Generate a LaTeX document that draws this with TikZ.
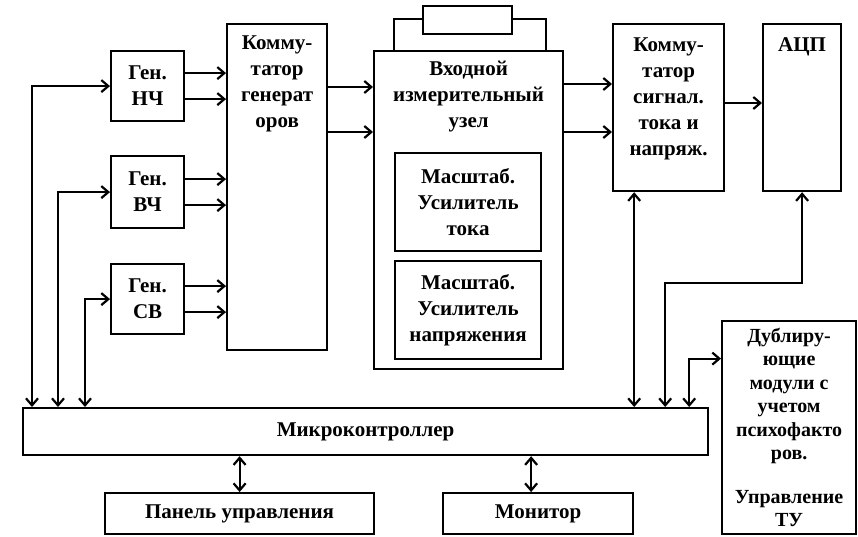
\documentclass[tikz,border=0pt]{standalone}
\usepackage{fontspec}
\setmainfont{Liberation Serif}
\usetikzlibrary{positioning,arrows.meta}

\begin{document}
\begin{tikzpicture}[x=1pt, y=-1pt, line width=2.2pt,
  font=\bfseries\fontsize{21}{26}\selectfont,
  >={Straight Barb[length=7pt,width=12pt]},
  blk/.style={draw, inner sep=0pt, anchor=north west, align=center},
  txt/.style={align=center, inner sep=0pt}
  ]
  \useasboundingbox (0,0) rectangle (858,536);
  % generators
  \node[blk, minimum width=73, minimum height=70] (gnch) at (110,50) {Ген.\\НЧ};
  \node[blk, minimum width=73, minimum height=72] (gvch) at (110,155) {Ген.\\ВЧ};
  \node[blk, minimum width=73, minimum height=70] (gsv) at (110,263) {Ген.\\СВ};
  \node[blk, minimum width=100, minimum height=326] (kg) at (226,23) {};
  \node[txt, below=12pt of kg.north] {Комму-\\татор\\генерат\\оров};
  % input unit with its lid
  \node[blk, minimum width=152, minimum height=32] (lid) at (393,18) {};
  \node[blk, fill=white, minimum width=89, minimum height=28] (disp) at (422,5) {};
  \node[blk, minimum width=189, minimum height=318] (vx) at (373,50) {};
  \node[txt, below=10pt of vx.north] {Входной\\измерительный\\узел};
  \node[blk, minimum width=146, minimum height=98] (mt) at (394,152) {Масштаб.\\Усилитель\\тока};
  \node[blk, minimum width=146, minimum height=98] (mn) at (394,260) {Масштаб.\\Усилитель\\напряжения};
  \node[blk, minimum width=111, minimum height=167] (ks) at (612,23) {};
  \node[txt, below=14pt of ks.north] {Комму-\\татор\\сигнал.\\тока и\\напряж.};
  \node[blk, minimum width=78, minimum height=167] (adc) at (762,23) {};
  \node[txt, below=14pt of adc.north] {АЦП};
  % bottom row
  \node[blk, minimum width=685, minimum height=47] (mc) at (22,407) {Микроконтроллер};
  \node[blk, minimum width=269, minimum height=41] (pu) at (104,492) {Панель управления};
  \node[blk, minimum width=190, minimum height=41] (mon) at (442,492) {Монитор};
  \node[blk, minimum width=134, minimum height=213, font=\bfseries\fontsize{20}{23.5}\selectfont]
    (dub) at (721,320) {Дублиру-\\ющие\\модули с\\учетом\\психофакто\\ров.\\[20pt]Управление\\ТУ};

  % signal flow
  \foreach \g in {gnch,gvch,gsv} {
    \draw[->] ([yshift=13]\g.east) -- ([yshift=13]\g.east -| kg.west);
    \draw[->] ([yshift=-13]\g.east) -- ([yshift=-13]\g.east -| kg.west);
  }
  \draw[->] ([yshift=-64]kg.north east) -- ([yshift=-64]kg.north east -| vx.west);
  \draw[->] ([yshift=-109]kg.north east) -- ([yshift=-109]kg.north east -| vx.west);
  \draw[->] ([yshift=-34]vx.north east) -- ([yshift=-34]vx.north east -| ks.west);
  \draw[->] ([yshift=-82]vx.north east) -- ([yshift=-82]vx.north east -| ks.west);
  \draw[->] ([yshift=-80]ks.north east) -- ([yshift=-80]ks.north east -| adc.west);

  % microcontroller links
  \coordinate (p1) at ([xshift=10]mc.north west);
  \coordinate (p2) at ([xshift=36]mc.north west);
  \coordinate (p3) at ([xshift=63]mc.north west);
  \coordinate (p4) at ([xshift=-75]mc.north east);
  \coordinate (p5) at ([xshift=-44]mc.north east);
  \coordinate (p6) at ([xshift=-20]mc.north east);
  \draw[<->] (p1) |- (gnch.west);
  \draw[<->] (p2) |- (gvch.west);
  \draw[<->] (p3) |- (gsv.west);
  \draw[<->] (p4) -- (p4 |- ks.south);
  \draw[<->] (p5) -- ++(0,-124) -| (adc.south);
  \draw[<->] (p6) |- ([yshift=69]dub.west);
  \draw[<->] (mc.south -| pu.north) -- (pu.north);
  \draw[<->] ([xshift=-7]mc.south -| mon.north) -- ([xshift=-7]mon.north);
\end{tikzpicture}
\end{document}
